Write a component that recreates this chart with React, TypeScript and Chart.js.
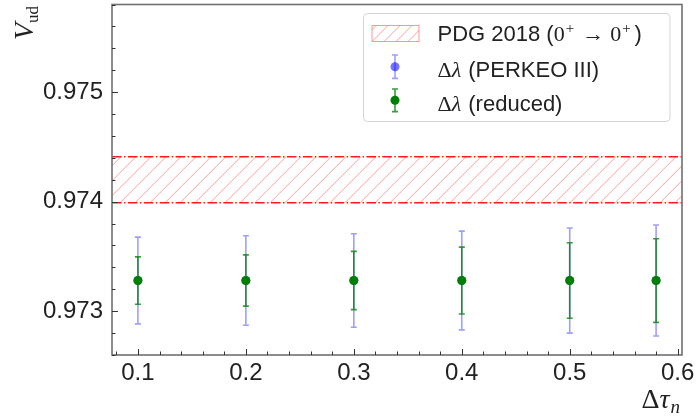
import React, { useEffect, useRef } from "react";
import { Chart, registerables } from "chart.js";

Chart.register(...registerables);

// Neutron lifetime step sizes (x) and the extracted V_ud values with 1-sigma errors
const tauSteps = [0.1, 0.2, 0.3, 0.4, 0.5, 0.58];
const vudPerkeo = [0.97328, 0.97328, 0.97328, 0.97328, 0.97328, 0.97328];
const errPerkeo = [0.000396, 0.000409, 0.000427, 0.000451, 0.00048, 0.000507];
const vudReduced = [0.97328, 0.97328, 0.97328, 0.97328, 0.97328, 0.97328];
const errReduced = [0.000216, 0.000234, 0.000266, 0.000305, 0.000345, 0.000382];

// PDG 2018 superallowed (0+ -> 0+) band
const pdgCentral = 0.9742;
const pdgError = 0.00021;

// Axis ranges and ticks
const xRange = [0.076, 0.604];
const yRange = [0.9726, 0.9758];
const xMajorTicks = [0.1, 0.2, 0.3, 0.4, 0.5, 0.6];
const xTickLabels = ["0.1", "0.2", "0.3", "0.4", "0.5", "0.6"];
const yMajorTicks = [0.973, 0.974, 0.975];
const yTickLabels = ["0.973", "0.974", "0.975"];
const xMinorStep = 0.02;
const yMinorStep = 0.0002;

const SANS = "'Liberation Sans', Arial, sans-serif";
const SERIF = "'Liberation Serif', 'DejaVu Serif', serif";

const BLUE_POINT = "rgba(0,0,255,0.55)";
const BLUE_BAR = "rgba(0,0,255,0.38)";
const GREEN_POINT = "#008000";
const GREEN_BAR = "rgba(0,128,0,0.78)";
const HATCH = "rgba(255,0,0,0.38)";
const BAND_EDGE = "rgba(255,0,0,0.9)";

function labelFor(value: number, ticks: number[], labels: string[]) {
  const i = ticks.findIndex((t) => Math.abs(t - value) < 1e-9);
  return i >= 0 ? labels[i] : "";
}

function drawHatch(ctx: CanvasRenderingContext2D, left: number, top: number, right: number, bottom: number, spacing: number) {
  const h = bottom - top;
  const start = Math.floor((left - h) / spacing) * spacing;
  ctx.beginPath();
  for (let k = start; k <= right; k += spacing) {
    ctx.moveTo(k, bottom);
    ctx.lineTo(k + h, top);
  }
  ctx.stroke();
}

function drawErrorBars(
  ctx: CanvasRenderingContext2D,
  xs: any,
  ys: any,
  xv: number[],
  yv: number[],
  ev: number[],
  color: string
) {
  ctx.save();
  ctx.strokeStyle = color;
  ctx.lineWidth = 1.6;
  const cap = 3;
  xv.forEach((xval, i) => {
    const px = xs.getPixelForValue(xval);
    const pTop = ys.getPixelForValue(yv[i] + ev[i]);
    const pBot = ys.getPixelForValue(yv[i] - ev[i]);
    ctx.beginPath();
    ctx.moveTo(px, pTop);
    ctx.lineTo(px, pBot);
    ctx.moveTo(px - cap, pTop);
    ctx.lineTo(px + cap, pTop);
    ctx.moveTo(px - cap, pBot);
    ctx.lineTo(px + cap, pBot);
    ctx.stroke();
  });
  ctx.restore();
}

function drawMarker(ctx: CanvasRenderingContext2D, x: number, y: number, half: number, barColor: string, pointColor: string) {
  ctx.save();
  ctx.strokeStyle = barColor;
  ctx.lineWidth = 1.6;
  ctx.beginPath();
  ctx.moveTo(x, y - half);
  ctx.lineTo(x, y + half);
  ctx.moveTo(x - 3, y - half);
  ctx.lineTo(x + 3, y - half);
  ctx.moveTo(x - 3, y + half);
  ctx.lineTo(x + 3, y + half);
  ctx.stroke();
  ctx.fillStyle = pointColor;
  ctx.beginPath();
  ctx.arc(x, y, 4.5, 0, Math.PI * 2);
  ctx.fill();
  ctx.restore();
}

// Draws a sequence of text runs, each with its own font and vertical shift
function drawRuns(ctx: CanvasRenderingContext2D, x: number, y: number, runs: [string, string, number, number?][]) {
  let cx = x;
  for (const [text, font, dy, gap] of runs) {
    ctx.font = font;
    ctx.fillText(text, cx, y + dy);
    cx += ctx.measureText(text).width + (gap || 0);
  }
  return cx;
}

const bandAndErrors = {
  id: "bandAndErrors",
  beforeDatasetsDraw(chart: any) {
    const { ctx, chartArea: a, scales } = chart;
    const { x, y } = scales;
    const yTop = y.getPixelForValue(pdgCentral + pdgError);
    const yBot = y.getPixelForValue(pdgCentral - pdgError);

    ctx.save();
    ctx.beginPath();
    ctx.rect(a.left, yTop, a.right - a.left, yBot - yTop);
    ctx.clip();
    ctx.strokeStyle = HATCH;
    ctx.lineWidth = 1;
    drawHatch(ctx, a.left, yTop, a.right, yBot, 15);
    ctx.restore();

    ctx.save();
    ctx.strokeStyle = BAND_EDGE;
    ctx.lineWidth = 1.5;
    ctx.setLineDash([9.6, 2.4, 1.5, 2.4]);
    for (const yy of [yTop, yBot]) {
      ctx.beginPath();
      ctx.moveTo(a.left, yy);
      ctx.lineTo(a.right, yy);
      ctx.stroke();
    }
    ctx.restore();

    drawErrorBars(ctx, x, y, tauSteps, vudPerkeo, errPerkeo, BLUE_BAR);
    drawErrorBars(ctx, x, y, tauSteps, vudReduced, errReduced, GREEN_BAR);
  },
};

const frameAndLegend = {
  id: "frameAndLegend",
  afterDraw(chart: any) {
    const { ctx, chartArea: a, scales } = chart;
    const { x, y } = scales;

    // Spines
    ctx.save();
    ctx.strokeStyle = "#707070";
    ctx.lineWidth = 1.6;
    ctx.strokeRect(a.left, a.top, a.right - a.left, a.bottom - a.top);
    ctx.restore();

    // Inward ticks (major and minor)
    ctx.save();
    ctx.strokeStyle = "#333";
    ctx.lineWidth = 1;
    ctx.beginPath();
    for (let i = Math.ceil(xRange[0] / xMinorStep - 1e-6); i * xMinorStep <= xRange[1] + 1e-9; i++) {
      const v = i * xMinorStep;
      const major = xMajorTicks.some((t) => Math.abs(t - v) < 1e-9);
      const px = Math.round(x.getPixelForValue(v)) + 0.5;
      ctx.moveTo(px, a.bottom);
      ctx.lineTo(px, a.bottom - (major ? 6 : 3.5));
    }
    for (let i = Math.ceil(yRange[0] / yMinorStep - 1e-6); i * yMinorStep <= yRange[1] + 1e-9; i++) {
      const v = i * yMinorStep;
      const major = yMajorTicks.some((t) => Math.abs(t - v) < 1e-9);
      const py = Math.round(y.getPixelForValue(v)) + 0.5;
      ctx.moveTo(a.left, py);
      ctx.lineTo(a.left + (major ? 6 : 3.5), py);
    }
    ctx.stroke();
    ctx.restore();

    // Axis titles
    ctx.save();
    ctx.fillStyle = "#222";
    ctx.textBaseline = "alphabetic";
    ctx.textAlign = "left";
    const big = `28px ${SERIF}`;
    const bigIt = `italic 28px ${SERIF}`;
    const subIt = `italic 19px ${SERIF}`;
    ctx.font = big;
    const wD = ctx.measureText("\u0394").width;
    ctx.font = bigIt;
    const wT = ctx.measureText("\u03c4").width;
    ctx.font = subIt;
    const wN = ctx.measureText("n").width;
    const xStart = 680 - (wD + wT + wN + 1);
    drawRuns(ctx, xStart, 408, [
      ["\u0394", big, 0],
      ["\u03c4", bigIt, 0, 1],
      ["n", subIt, 5],
    ]);

    ctx.save();
    ctx.translate(33, 40);
    ctx.rotate(-Math.PI / 2);
    drawRuns(ctx, 0, 0, [
      ["V", bigIt, 0, 0],
      ["ud", `17px ${SERIF}`, 5],
    ]);
    ctx.restore();
    ctx.restore();

    // Legend
    const lx = 363.5, ly = 13.5, lw = 306.5, lh = 108;
    ctx.save();
    ctx.beginPath();
    ctx.roundRect(lx, ly, lw, lh, 4);
    ctx.fillStyle = "rgba(255,255,255,0.85)";
    ctx.fill();
    ctx.strokeStyle = "#d4d4d4";
    ctx.lineWidth = 1;
    ctx.stroke();

    // Hatched patch
    const px0 = 372, py0 = 25.5, pw = 47, ph = 16;
    ctx.save();
    ctx.beginPath();
    ctx.rect(px0, py0, pw, ph);
    ctx.clip();
    ctx.strokeStyle = HATCH;
    ctx.lineWidth = 1;
    drawHatch(ctx, px0, py0, px0 + pw, py0 + ph, 12);
    ctx.restore();
    ctx.strokeStyle = "rgba(255,0,0,0.4)";
    ctx.lineWidth = 1;
    ctx.strokeRect(px0, py0, pw, ph);

    drawMarker(ctx, 395, 66.7, 11.7, BLUE_BAR, BLUE_POINT);
    drawMarker(ctx, 395, 100.3, 11.3, GREEN_BAR, GREEN_POINT);

    ctx.fillStyle = "#222";
    ctx.textAlign = "left";
    ctx.textBaseline = "alphabetic";
    const sans = `22px ${SANS}`;
    const m = `22px ${SERIF}`;
    const mIt = `italic 22px ${SERIF}`;
    const sup = `15px ${SERIF}`;
    const tx = 437.5;
    drawRuns(ctx, tx, 40.5, [
      ["PDG 2018 (", sans, 0],
      ["0", m, 0, 1],
      ["+", sup, -8, 8],
      ["\u2192", m, 0, 6],
      ["0", m, 0, 1],
      ["+", sup, -8, 4],
      [")", sans, 0],
    ]);
    drawRuns(ctx, tx, 76.5, [
      ["\u0394", m, 0],
      ["\u03bb", mIt, 0, 1],
      [" (PERKEO III)", sans, 0],
    ]);
    drawRuns(ctx, tx, 110.5, [
      ["\u0394", m, 0],
      ["\u03bb", mIt, 0, 1],
      [" (reduced)", sans, 0],
    ]);
    ctx.restore();
  },
};

export default function App() {
  const canvasRef = useRef<HTMLCanvasElement>(null);

  useEffect(() => {
    const canvas = canvasRef.current;
    if (!canvas) return;
    const tickFont = { family: SANS, size: 24 };
    const chart = new Chart(canvas, {
      type: "scatter",
      data: {
        datasets: [
          {
            label: "\u0394\u03bb (reduced)",
            data: tauSteps.map((t, i) => ({ x: t, y: vudReduced[i] })),
            pointRadius: 4.5,
            pointBorderWidth: 0,
            pointBackgroundColor: GREEN_POINT,
            pointBorderColor: GREEN_POINT,
          },
          {
            label: "\u0394\u03bb (PERKEO III)",
            data: tauSteps.map((t, i) => ({ x: t, y: vudPerkeo[i] })),
            pointRadius: 4.5,
            pointBorderWidth: 0,
            pointBackgroundColor: BLUE_POINT,
            pointBorderColor: BLUE_POINT,
          },
        ],
      },
      options: {
        animation: false,
        responsive: false,
        devicePixelRatio: 1,
        events: [],
        layout: { padding: { top: 2, right: 15, left: 0, bottom: 0 } },
        plugins: { legend: { display: false }, tooltip: { enabled: false } },
        scales: {
          x: {
            type: "linear",
            min: xRange[0],
            max: xRange[1],
            grid: { display: false, drawTicks: false },
            border: { display: false },
            afterFit: (s: any) => {
              s.height = 62;
              s.paddingLeft = 0;
              s.paddingRight = 0;
            },
            afterBuildTicks: (s: any) => {
              s.ticks = xMajorTicks.map((v) => ({ value: v }));
            },
            ticks: {
              autoSkip: false,
              maxRotation: 0,
              padding: 4,
              color: "#222",
              font: tickFont,
              callback: (v: any) => labelFor(Number(v), xMajorTicks, xTickLabels),
            },
          },
          y: {
            type: "linear",
            min: yRange[0],
            max: yRange[1],
            grid: { display: false, drawTicks: false },
            border: { display: false },
            afterFit: (s: any) => {
              s.width = 112;
              s.paddingTop = 0;
              s.paddingBottom = 0;
            },
            afterBuildTicks: (s: any) => {
              s.ticks = yMajorTicks.map((v) => ({ value: v }));
            },
            ticks: {
              autoSkip: false,
              padding: 9,
              color: "#222",
              font: tickFont,
              callback: (v: any) => labelFor(Number(v), yMajorTicks, yTickLabels),
            },
          },
        },
      },
      plugins: [bandAndErrors, frameAndLegend],
    } as any);
    return () => chart.destroy();
  }, []);

  return (
    <div style={{ position: "absolute", left: 0, top: 0, width: 697, height: 417 }}>
      <canvas ref={canvasRef} width={697} height={417} style={{ display: "block", width: 697, height: 417 }} />
    </div>
  );
}
